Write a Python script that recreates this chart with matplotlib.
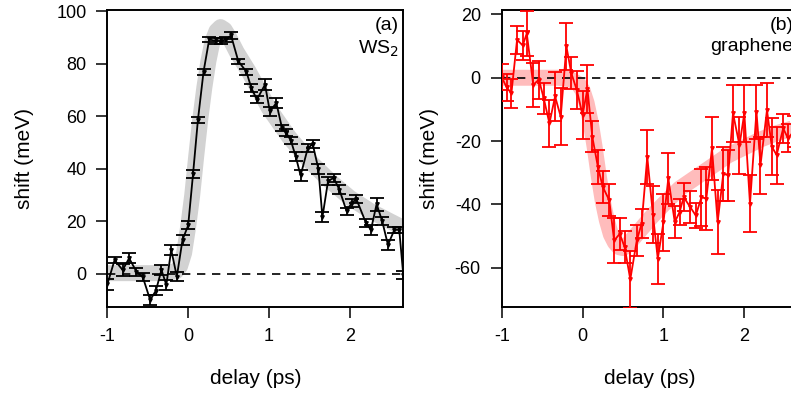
import numpy as np
import matplotlib.pyplot as plt

plt.rcParams['font.family'] = ['Liberation Sans', 'DejaVu Sans']
plt.rcParams['font.size'] = 13

# (a) WS2 shift vs delay
ws2_delay = [-1.0, -0.91, -0.81, -0.73, -0.64, -0.56, -0.47, -0.40, -0.33, -0.27,
             -0.21, -0.14, -0.07, 0.0, 0.06, 0.12, 0.19, 0.26, 0.34, 0.41,
             0.47, 0.53, 0.62, 0.72, 0.78, 0.85, 0.95, 1.01, 1.09, 1.16,
             1.21, 1.27, 1.33, 1.39, 1.48, 1.54, 1.61, 1.66, 1.73, 1.80,
             1.87, 1.96, 2.02, 2.08, 2.20, 2.26, 2.33, 2.40, 2.47, 2.55,
             2.61, 2.66]
ws2_shift = [-4.0, 5.3, 1.5, 6.0, 0.9, -1.3, -9.9, -6.4, 1.5, -4.2,
             9.2, -1.0, 13.0, 18.5, 38.0, 58.5, 77.0, 89.3, 88.7, 88.7,
             89.3, 90.8, 81.0, 77.0, 70.9, 66.4, 72.1, 61.9, 65.1, 55.6,
             53.8, 50.8, 44.7, 37.5, 48.0, 49.4, 40.0, 21.6, 35.5, 36.5,
             32.1, 23.8, 27.0, 28.5, 19.3, 16.8, 26.6, 20.0, 11.1, 16.8,
             16.8, -0.5]
ws2_err = [2.0, 1.3, 2.2, 2.0, 1.5, 1.5, 2.0, 1.8, 1.8, 1.8,
           1.9, 1.8, 2.0, 1.5, 1.5, 1.2, 1.2, 1.0, 1.0, 1.0,
           1.0, 1.2, 1.0, 1.2, 1.5, 1.5, 2.0, 1.8, 1.8, 1.3,
           1.3, 1.5, 1.8, 2.2, 1.5, 1.5, 1.8, 2.0, 1.5, 1.5,
           1.8, 1.2, 1.5, 1.5, 1.5, 1.8, 2.5, 1.5, 1.8, 1.2,
           1.2, 1.5]
ws2_fit_x = [-1.0, -0.3, -0.15, -0.1, -0.05, 0.0, 0.05, 0.1, 0.15, 0.2,
             0.25, 0.3, 0.35, 0.4, 0.45, 0.5, 0.6, 0.75, 1.0, 1.25,
             1.5, 1.75, 2.0, 2.25, 2.5, 2.66]
ws2_fit_y = [0.3, 0.3, 1.0, 3.0, 8.0, 18.0, 30.0, 45.0, 59.0, 71.0,
             81.0, 88.5, 92.5, 94.0, 93.0, 90.5, 84.5, 77.0, 63.0, 52.0,
             43.0, 35.5, 29.0, 24.0, 20.0, 17.5]

# (b) graphene shift vs delay
gr_delay = [-1.0, -0.94, -0.88, -0.81, -0.74, -0.69, -0.61, -0.54, -0.48, -0.41,
            -0.34, -0.27, -0.20, -0.14, -0.07, 0.0, 0.06, 0.12, 0.19, 0.25,
            0.33, 0.39, 0.46, 0.52, 0.59, 0.67, 0.73, 0.80, 0.87, 0.93,
            1.0, 1.06, 1.14, 1.20, 1.25, 1.33, 1.40, 1.47, 1.53, 1.60,
            1.67, 1.74, 1.80, 1.86, 1.94, 2.0, 2.07, 2.15, 2.20, 2.28,
            2.34, 2.40, 2.48, 2.54, 2.61]
gr_shift = [0.2, -3.0, -4.9, 12.0, 10.2, 14.0, -2.2, -0.6, -6.5, -14.4,
            -5.9, -12.3, 9.9, 1.5, -4.0, -11.7, -3.5, -18.6, -28.2, -34.5,
            -38.7, -51.4, -49.3, -53.5, -63.7, -51.4, -46.1, -25.0, -43.3, -57.2,
            -45.6, -31.8, -45.6, -42.4, -37.7, -40.8, -43.5, -37.7, -38.2, -22.3,
            -45.6, -30.3, -30.8, -11.2, -21.3, -11.2, -39.8, -10.7, -27.6, -10.2,
            -21.8, -24.4, -16.0, -19.1, -17.0]
gr_err = [4.0, 4.2, 4.5, 4.5, 4.5, 7.0, 7.0, 6.0, 5.0, 7.4,
          7.8, 9.0, 7.3, 5.0, 6.0, 7.5, 7.5, 5.0, 5.5, 5.0,
          5.0, 7.0, 5.0, 5.0, 9.0, 5.0, 4.5, 8.5, 9.0, 8.0,
          9.0, 8.0, 5.0, 4.0, 4.5, 5.0, 4.0, 9.0, 10.0, 10.0,
          10.0, 8.5, 8.0, 9.0, 9.0, 9.0, 9.0, 8.5, 9.0, 8.5,
          9.0, 9.0, 4.5, 4.5, 5.0]
gr_fit_x = [-1.0, -0.3, -0.15, -0.05, 0.0, 0.05, 0.1, 0.15, 0.2, 0.25,
            0.3, 0.35, 0.4, 0.45, 0.5, 0.55, 0.6, 0.7, 0.85, 1.0,
            1.2, 1.4, 1.6, 1.8, 2.0, 2.2, 2.4, 2.66]
gr_fit_y = [0.0, 0.0, -0.5, -2.0, -4.0, -8.0, -14.0, -22.0, -31.0, -39.0,
            -45.0, -49.5, -52.0, -53.5, -53.8, -53.0, -51.5, -48.5, -44.0, -40.0,
            -35.0, -31.5, -28.0, -24.5, -22.0, -19.5, -17.5, -15.5]

fig = plt.figure(figsize=(7.91, 3.96), dpi=100)
ax1 = fig.add_axes([107.3 / 791, 88.7 / 396, 296 / 791, 297.3 / 396])
ax2 = fig.add_axes([501.7 / 791, 88.7 / 396, 296 / 791, 297.3 / 396])

panels = [
    (ax1, ws2_delay, ws2_shift, ws2_err, ws2_fit_x, ws2_fit_y, 'k', '#d2d2d2',
     (-12.7, 100.5), [0, 20, 40, 60, 80, 100], '(a)\nWS$_2$', 16),
    (ax2, gr_delay, gr_shift, gr_err, gr_fit_x, gr_fit_y, '#ff0000', '#ffbcbc',
     (-72.5, 21.4), [-60, -40, -20, 0, 20], '(b)\ngraphene', 11),
]

for ax, x, y, e, fx, fy, col, band, ylim, yt, txt, ypad in panels:
    ax.plot(fx, fy, color=band, lw=11.5, solid_capstyle='butt', zorder=1)
    ax.axhline(0, color='k', lw=1.2, ls=(0, (5, 4)), zorder=2)
    ax.errorbar(x, y, yerr=e, color=col, lw=1.3, elinewidth=1.3, capsize=5,
                capthick=1.3, marker='v', ms=2.5, zorder=3)
    ax.set_xlim(-1, 2.66)
    ax.set_ylim(*ylim)
    ax.set_xticks([-1, 0, 1, 2])
    ax.set_xticklabels(['-1', '0', '1', '2'])
    ax.set_yticks(yt)
    ax.set_yticklabels([str(v) for v in yt])
    ax.tick_params(direction='out', length=8, width=1.1, pad=7)
    for s in ax.spines.values():
        s.set_linewidth(1.4)
    ax.set_xlabel('delay (ps)', fontsize=15, labelpad=17)
    ax.set_ylabel('shift (meV)', fontsize=15, labelpad=ypad)
    ax.text(0.985, 0.975, txt, transform=ax.transAxes, ha='right', va='top',
            fontsize=14, linespacing=1.3)

fig.savefig('out.png', dpi=100)
